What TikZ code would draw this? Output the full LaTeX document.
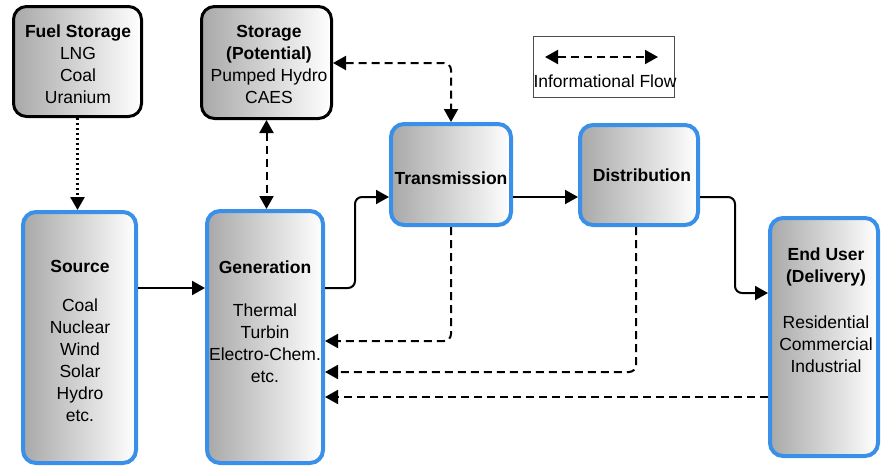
\documentclass[tikz,border=0pt]{standalone}
\usepackage{fontspec}
\setmainfont{Liberation Sans}
\usetikzlibrary{arrows.meta,calc}
\definecolor{boxblue}{RGB}{58,144,232}
\begin{document}
\begin{tikzpicture}[x=1pt,y=1pt,
  base/.style={rounded corners=13pt, left color=black!34, middle color=black!12, right color=white},
  topbox/.style={base, draw=black, line width=3pt},
  lowbox/.style={base, draw=boxblue, line width=4pt},
  txt/.style={align=center, font=\fontsize{17.5}{22}\selectfont, inner sep=0pt},
  tip/.tip={Triangle[length=13pt,width=14pt]},
  flow/.style={line width=2pt, -tip, rounded corners=7pt},
  info/.style={flow, dash pattern=on 8pt off 5pt},
  infoboth/.style={info, tip-tip},
  fuelflow/.style={flow, line width=2.5pt, dash pattern=on 2pt off 3pt}
]
\useasboundingbox (0,0) rectangle (883,-469);

% boxes
\node[topbox, minimum width=128pt, minimum height=110pt] (fuel) at (77.5,-61.5) {};
\node[topbox, minimum width=130pt, minimum height=112pt] (stor) at (266.5,-62.5) {};
\node[lowbox, minimum width=113pt, minimum height=251pt] (src) at (79.5,-337.5) {};
\node[lowbox, minimum width=116pt, minimum height=252pt] (gen) at (265,-337) {};
\node[lowbox, minimum width=120pt, minimum height=101pt] (trans) at (451,-174.5) {};
\node[lowbox, minimum width=118pt, minimum height=100pt] (dist) at (639,-175) {};
\node[lowbox, minimum width=108pt, minimum height=238pt] (end) at (824,-337) {};
\node[draw=black!70, line width=1.5pt, minimum width=141pt, minimum height=61pt] (leg) at (604,-67) {};

% texts
\node[txt] (fuelT) at (78,-64) {\textbf{Fuel Storage}\\LNG\\Coal\\Uranium};
\node[txt] (storT) at (269,-64) {\textbf{Storage}\\\textbf{(Potential)}\\Pumped Hydro\\CAES};
\node[txt] (srcT) at (80,-341) {\textbf{Source}\\[17pt]Coal\\Nuclear\\Wind\\Solar\\Hydro\\etc.};
\node[txt] (genT) at (265,-322) {\textbf{Generation}\\[21pt]Thermal\\Turbin\\Electro-Chem.\\etc.};
\node[txt] (transT) at (451,-178) {\textbf{Transmission}};
\node[txt] (distT) at (642,-175) {\textbf{Distribution}};
\node[txt] (endT) at (826,-310.5) {\textbf{End User}\\\textbf{(Delivery)}\\[24pt]Residential\\Commercial\\Industrial};
\node[txt] (legT) at (605,-81) {Informational Flow};

% helper levels
\coordinate (yA) at (0,-288);
\coordinate (yB) at (0,-197);
\coordinate (yC) at (0,-293);
\coordinate (yD) at (0,-341);
\coordinate (yE) at (0,-372);
\coordinate (yF) at (0,-397);
\coordinate (yS) at (0,-63);
\coordinate (xG) at (355,0);
\coordinate (xH) at (735,0);
\coordinate (lgL) at (545,-57);
\coordinate (lgR) at (658,-57);

% connectors
\draw[fuelflow] (fuel.south) -- (fuel.south |- src.north);
\draw[infoboth] (stor.south) -- (stor.south |- gen.north);
\draw[infoboth] (stor.east |- yS) -| (trans.north);
\draw[flow] (src.east |- yA) -- (gen.west |- yA);
\draw[flow] (gen.east |- yA) -- (xG |- yA) -- (xG |- yB) -- (trans.west |- yB);
\draw[flow] (trans.east |- yB) -- (dist.west |- yB);
\draw[flow] (dist.east |- yB) -- (xH |- yB) -- (xH |- yC) -- (end.west |- yC);
\draw[info] (trans.south) |- (gen.east |- yD);
\draw[info] ([xshift=-3pt]dist.south) |- (gen.east |- yE);
\draw[info] (end.west |- yF) -- (gen.east |- yF);
\draw[infoboth, rounded corners=0pt] (lgL) -- (lgR);
\end{tikzpicture}
\end{document}
